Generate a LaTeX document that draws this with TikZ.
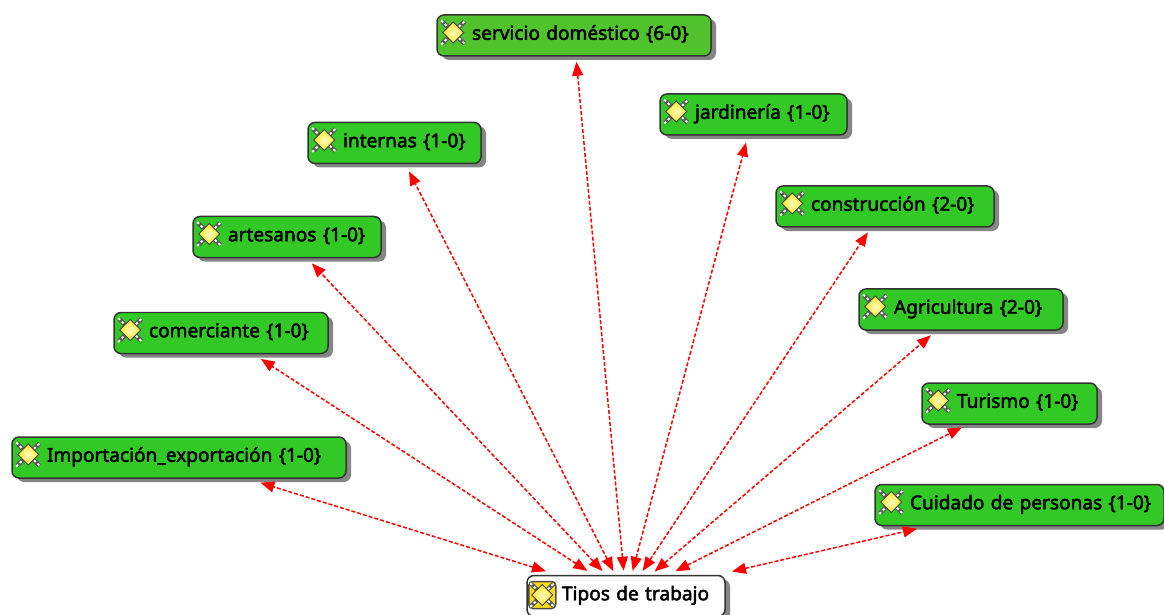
\documentclass[tikz,border=0pt]{standalone}
\usepackage{fontspec}
\newfontfamily\tagfont[FakeBold=2.4]{Noto Sans}
\definecolor{codegreen}{RGB}{50,200,38}
\definecolor{busygreen}{RGB}{80,194,44}
\definecolor{iconyellow}{RGB}{255,235,30}
\tikzset{
    codeicon/.pic={
        \draw[black!65,line width=0.09cm] (-0.22,-0.22)--(0.22,0.22);
        \draw[black!65,line width=0.09cm] (-0.22,0.22)--(0.22,-0.22);
        \draw[white,line width=0.04cm,dash pattern=on 0.05cm off 0.05cm] (-0.24,-0.24)--(0.24,0.24);
        \draw[white,line width=0.04cm,dash pattern=on 0.05cm off 0.05cm] (-0.24,0.24)--(0.24,-0.24);
        \draw[black!75,line width=0.02cm,inner color=iconyellow!25,outer color=iconyellow] (-0.21,0)--(0,0.21)--(0.21,0)--(0,-0.21)--cycle;
    },
    rooticon/.pic={
        \draw[black!70,line width=0.03cm,fill=iconyellow!85!orange,rounded corners=0.08cm] (-0.27,-0.27) rectangle (0.27,0.27);
        \pic {codeicon};
    },
}
\usetikzlibrary{calc, arrows.meta, shadows}
\tikzset{
    tag/.style={draw=black!80,line width=0.03cm,rounded corners=0.14cm,fill=codegreen,
        minimum height=0.82cm,inner xsep=0pt,inner ysep=0pt,align=left,text height=0.42cm,text depth=0.25cm,
        font=\tagfont\fontsize{10.85pt}{12pt}\selectfont,
        execute at begin node={\hspace*{0.7cm}},
        drop shadow={shadow xshift=0.1cm,shadow yshift=-0.08cm,fill=black!80,opacity=0.6}},
    link/.style={<->,>={Triangle[length=0.28cm,width=0.22cm]},red,line width=0.03cm,dash pattern=on 0.08cm off 0.04cm},
}

\begin{document}
\begin{tikzpicture}
            \useasboundingbox (0,0) rectangle (23.28,-12.3);
            \node[tag,fill=busygreen,text width=5.48cm] (servicio) at (11.48,-0.71){servicio doméstico \{6-0\}};
            \node[tag,text width=3.74cm] (jardineria) at (15.07,-2.29){jardinería \{1-0\}};
            \node[tag,text width=3.46cm] (internas) at (7.89,-2.86){internas \{1-0\}};
            \node[tag,text width=4.36cm] (construccion) at (17.70,-4.13){construcción \{2-0\}};
            \node[tag,text width=3.76cm] (artesanos) at (5.74,-4.74){artesanos \{1-0\}};
            \node[tag,text width=4.08cm] (agricultura) at (19.22,-6.19){Agricultura \{2-0\}};
            \node[tag,text width=4.28cm] (comerciante) at (4.42,-6.66){comerciante \{1-0\}};
            \node[tag,text width=3.50cm] (turismo) at (20.19,-8.07){Turismo \{1-0\}};
            \node[tag,text width=6.68cm] (importacion) at (3.58,-9.15){Importación\_exportación \{1-0\}};
            \node[tag,text width=5.78cm] (cuidado) at (20.39,-10.10){Cuidado de personas \{1-0\}};
            \node[tag,fill=white,text width=3.96cm] (tipos) at (12.52,-11.92){Tipos de trabajo};
            \pic at ([xshift=0.34cm,yshift=0.06cm]servicio.west) {codeicon};
            \pic at ([xshift=0.34cm,yshift=0.06cm]jardineria.west) {codeicon};
            \pic at ([xshift=0.34cm,yshift=0.06cm]internas.west) {codeicon};
            \pic at ([xshift=0.34cm,yshift=0.06cm]construccion.west) {codeicon};
            \pic at ([xshift=0.34cm,yshift=0.06cm]artesanos.west) {codeicon};
            \pic at ([xshift=0.34cm,yshift=0.06cm]agricultura.west) {codeicon};
            \pic at ([xshift=0.34cm,yshift=0.06cm]comerciante.west) {codeicon};
            \pic at ([xshift=0.34cm,yshift=0.06cm]turismo.west) {codeicon};
            \pic at ([xshift=0.34cm,yshift=0.06cm]importacion.west) {codeicon};
            \pic at ([xshift=0.34cm,yshift=0.06cm]cuidado.west) {codeicon};
            \pic at ([xshift=0.32cm,yshift=0.02cm]tipos.west) {rooticon};
            \draw[link,shorten <=0.08cm,shorten >=0.10cm] (tipos)--(servicio);
            \draw[link,shorten <=0.08cm,shorten >=0.14cm] (tipos)--(jardineria);
            \draw[link,shorten <=0.08cm,shorten >=0.16cm] (tipos)--(internas);
            \draw[link,shorten <=0.09cm,shorten >=0.11cm] (tipos)--(construccion);
            \draw[link,shorten <=0.10cm,shorten >=0.14cm] (tipos)--(artesanos);
            \draw[link,shorten <=0.10cm,shorten >=0.14cm] (tipos)--(agricultura);
            \draw[link,shorten <=0.14cm,shorten >=0.17cm] (tipos)--(comerciante);
            \draw[link,shorten <=0.16cm,shorten >=0.12cm] (tipos)--(turismo);
            \draw[link,shorten <=0.24cm,shorten >=0.27cm] (tipos)--(importacion);
            \draw[link,shorten <=0.29cm,shorten >=0.22cm] (tipos)--(cuidado);
        \end{tikzpicture}
\end{document}
